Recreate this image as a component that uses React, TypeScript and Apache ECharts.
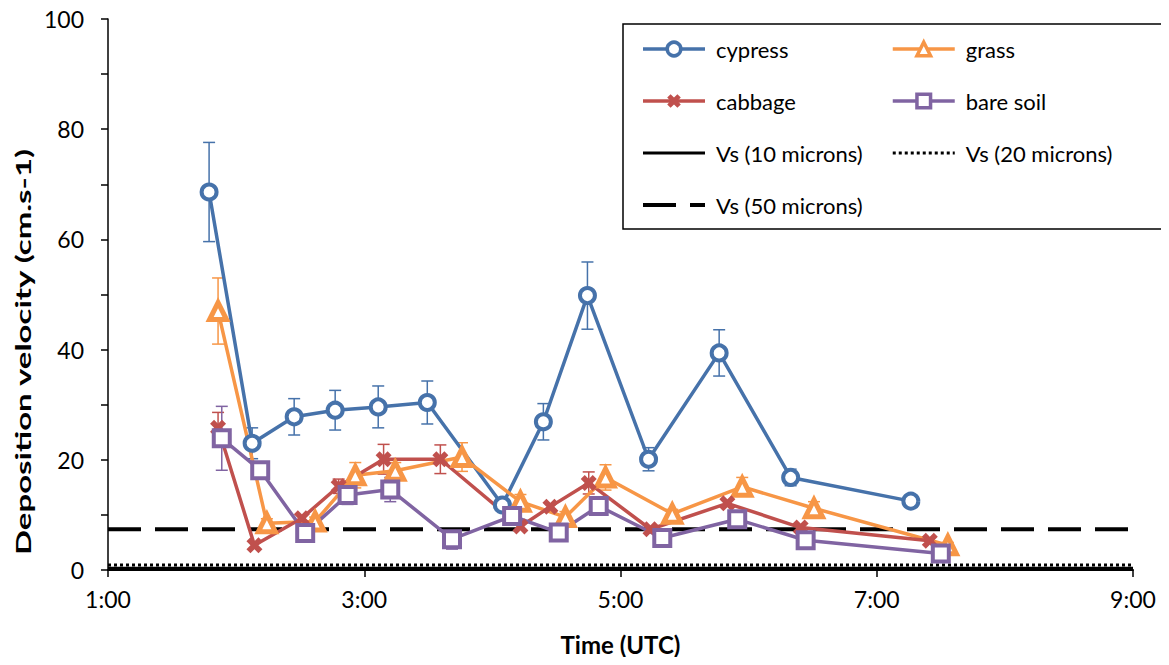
import React, { useEffect, useRef } from "react";
import * as echarts from "echarts";

// Time in decimal hours (UTC)
const cypressTime = [1.789, 2.125, 2.453, 2.773, 3.109, 3.492, 4.078, 4.398, 4.742, 5.219, 5.77, 6.328, 7.266];
const cypressVd = [68.6, 23.0, 27.8, 29.0, 29.6, 30.4, 11.8, 26.9, 49.8, 20.1, 39.4, 16.8, 12.5];
const cypressErr = [9.0, 2.8, 3.3, 3.6, 3.8, 3.9, 1.0, 3.3, 6.1, 2.1, 4.2, 1.5, 0];

const grassTime = [1.859, 2.24, 2.617, 2.93, 3.242, 3.763, 4.219, 4.57, 4.883, 5.404, 5.95, 6.51, 7.555];
const grassVd = [47.0, 8.5, 8.8, 17.2, 18.0, 20.5, 12.4, 9.6, 16.8, 10.2, 15.1, 11.2, 4.5];
const grassErr = [6.0, 0.8, 0.8, 2.3, 1.5, 2.6, 1.3, 1.0, 2.3, 0.8, 1.7, 1.2, 0.5];

const cabbageTime = [1.859, 2.143, 2.513, 2.8, 3.151, 3.594, 4.219, 4.453, 4.752, 5.234, 5.834, 6.406, 7.414];
const cabbageVd = [25.8, 4.5, 9.4, 15.2, 20.1, 20.1, 7.9, 11.5, 15.8, 7.4, 12.1, 7.7, 5.3];
const cabbageErr = [2.8, 0, 0, 1.3, 2.7, 2.6, 0, 0, 2.0, 0, 0, 0, 0];

const soilTime = [1.888, 2.188, 2.539, 2.87, 3.203, 3.685, 4.154, 4.518, 4.83, 5.326, 5.911, 6.445, 7.5];
const soilVd = [23.9, 18.1, 6.7, 13.6, 14.6, 5.6, 9.8, 6.8, 11.6, 5.8, 9.2, 5.4, 3.0];
const soilErr = [5.8, 0, 0, 1.7, 2.2, 1.8, 0, 0, 1.6, 0, 0, 0, 0];

const vsRange = [1, 9];
const vs10 = 0.3;
const vs20 = 0.9;
const vs50 = 7.4;

const xTicks = [1, 3, 5, 7, 9];
const yTitle = "Deposition velocity (cm.s-1)";
const xTitle = "Time (UTC)";

const BLUE = "#4672AA";
const ORANGE = "#F79646";
const RED = "#C0504D";
const PURPLE = "#8064A2";
const FONT = "Lato, 'Liberation Sans', sans-serif";

const XPATH =
  "path://M0,2.5 L2.5,0 L5,2.5 L7.5,0 L10,2.5 L7.5,5 L10,7.5 L7.5,10 L5,7.5 L2.5,10 L0,7.5 L2.5,5 Z";

function pts(t: number[], v: number[]) {
  return t.map((x, i) => [x, v[i]]);
}
function errPts(t: number[], v: number[], e: number[]) {
  return t.map((x, i) => [x, v[i], e[i]]);
}

function errSeries(name: string, data: number[][], color: string) {
  return {
    name,
    type: "custom",
    z: 1,
    data,
    renderItem: (params: any, api: any) => {
      const x = api.value(0);
      const y = api.value(1);
      const e = api.value(2);
      if (!e) return null;
      const top = api.coord([x, y + e]);
      const bot = api.coord([x, y - e]);
      const hw = 6;
      const style = { stroke: color, lineWidth: 1.5 };
      return {
        type: "group",
        children: [
          { type: "line", shape: { x1: top[0], y1: top[1], x2: bot[0], y2: bot[1] }, style },
          { type: "line", shape: { x1: top[0] - hw, y1: top[1], x2: top[0] + hw, y2: top[1] }, style },
          { type: "line", shape: { x1: bot[0] - hw, y1: bot[1], x2: bot[0] + hw, y2: bot[1] }, style },
        ],
      };
    },
  };
}

export default function App() {
  const ref = useRef<HTMLDivElement>(null);
  useEffect(() => {
    if (!ref.current) return;
    const chart = echarts.init(ref.current, null, { renderer: "svg" });
    const lineSeries = (
      name: string,
      data: number[][],
      color: string,
      symbol: string,
      size: number,
      hollow: boolean,
      bw = 4
    ) => ({
      name,
      type: "line",
      z: 3,
      data,
      symbol,
      symbolSize: size,
      showSymbol: true,
      lineStyle: { color, width: 3.5 },
      itemStyle: hollow
        ? { color: "#ffffff", borderColor: color, borderWidth: bw }
        : { color, borderWidth: 0 },
    });
    const vsLine = (name: string, val: number, type: any, width: number) => ({
      name,
      type: "line",
      z: 2,
      data: vsRange.map((x) => [x, val]),
      symbol: "none",
      lineStyle: { color: "#000000", width, type },
      itemStyle: { color: "rgba(0,0,0,0)", borderWidth: 0 },
    });
    const legendText = { fontFamily: FONT, fontSize: 22, color: "#000", padding: [0, 0, 0, 6] };
    const mk = (name: string, color: string, hollow: boolean) => ({
      name,
      itemStyle: hollow
        ? { color: "#ffffff", borderColor: color, borderWidth: 3.5 }
        : { color, borderWidth: 0 },
      lineStyle: { color, width: 3.5 },
    });
    const vsItem = (name: string, width: number) => ({
      name,
      itemStyle: { opacity: 0 },
      lineStyle: { width },
    });
    chart.setOption({
      animation: false,
      textStyle: { fontFamily: FONT },
      grid: { left: 108, right: 36, top: 19, bottom: 95 },
      xAxis: {
        type: "value",
        min: 1,
        max: 9,
        interval: 2,
        name: xTitle,
        nameLocation: "middle",
        nameGap: 62,
        nameTextStyle: { fontFamily: FONT, fontSize: 24, fontWeight: "bold", color: "#000" },
        axisLine: { onZero: false, lineStyle: { color: "#000", width: 2 } },
        axisTick: { show: true, length: 7, lineStyle: { color: "#000", width: 1.5 } },
        axisLabel: {
          color: "#000",
          fontSize: 23,
          fontFamily: FONT,
          margin: 17,
          formatter: (v: number) => (xTicks.includes(v) ? `${v}:00` : ""),
        },
        splitLine: { show: false },
      },
      yAxis: {
        type: "value",
        min: 0,
        max: 100,
        interval: 10,
        axisLine: { show: true, lineStyle: { color: "#000", width: 1.5 } },
        axisTick: { show: true, length: 7, lineStyle: { color: "#000", width: 1.5 } },
        axisLabel: {
          color: "#000",
          fontSize: 23,
          fontFamily: FONT,
          margin: 24,
          formatter: (v: number) => (v % 20 === 0 ? String(v) : ""),
        },
        splitLine: { show: false },
      },
      legend: [
        {
          data: [
            mk("cypress", BLUE, true),
            mk("cabbage", RED, false),
            vsItem("Vs (10 microns)", 3),
            vsItem("Vs (50 microns)", 4),
          ],
          orient: "vertical",
          left: 636,
          top: 33,
          itemWidth: 62,
          itemHeight: 17,
          itemGap: 30,
          textStyle: legendText,
        },
        {
          data: [
            mk("grass", ORANGE, true),
            mk("bare soil", PURPLE, true),
            vsItem("Vs (20 microns)", 3),
          ],
          orient: "vertical",
          left: 886,
          top: 33,
          itemWidth: 62,
          itemHeight: 17,
          itemGap: 30,
          textStyle: legendText,
        },
      ],
      graphic: [
        {
          type: "rect",
          shape: { x: 623, y: 24, width: 543, height: 205 },
          style: { fill: "rgba(0,0,0,0)", stroke: "#000", lineWidth: 1.5 },
          z: 10,
        },
        {
          type: "text",
          x: 23,
          y: 352,
          rotation: Math.PI / 2,
          scaleX: 1.65,
          style: {
            text: yTitle,
            font: `bold 20px ${FONT}`,
            fill: "#000",
            textAlign: "center",
            textVerticalAlign: "middle",
          },
        },
      ],
      series: [
        vsLine("Vs (10 microns)", vs10, "solid", 3),
        vsLine("Vs (20 microns)", vs20, [3, 3], 3),
        vsLine("Vs (50 microns)", vs50, [33, 14], 4),
        errSeries("cypress err", errPts(cypressTime, cypressVd, cypressErr), BLUE),
        errSeries("grass err", errPts(grassTime, grassVd, grassErr), ORANGE),
        errSeries("cabbage err", errPts(cabbageTime, cabbageVd, cabbageErr), RED),
        errSeries("soil err", errPts(soilTime, soilVd, soilErr), PURPLE),
        lineSeries("cypress", pts(cypressTime, cypressVd), BLUE, "circle", 15, true),
        lineSeries("grass", pts(grassTime, grassVd), ORANGE, "triangle", 17, true, 5),
        lineSeries("cabbage", pts(cabbageTime, cabbageVd), RED, XPATH, 16, false),
        lineSeries("bare soil", pts(soilTime, soilVd), PURPLE, "rect", 16, true),
      ],
    });
    return () => chart.dispose();
  }, []);
  return <div ref={ref} style={{ width: 1169, height: 665, margin: -8 }} />;
}
